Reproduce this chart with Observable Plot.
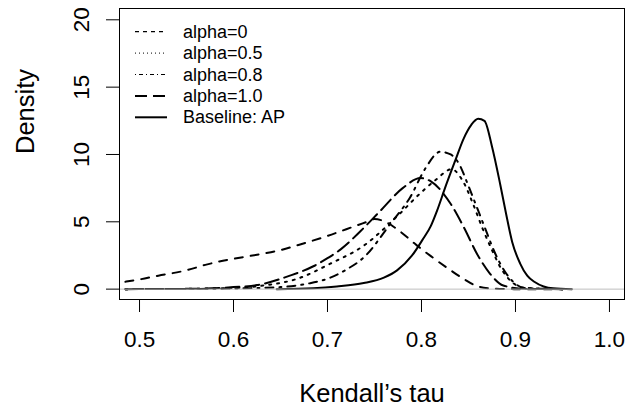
<!DOCTYPE html>
<html><head><meta charset="utf-8">
<script src="https://cdn.jsdelivr.net/npm/d3@7"></script>
<script src="https://cdn.jsdelivr.net/npm/@observablehq/plot@0.6"></script>
<style>
body{margin:0;background:#fff;}
#wrap{position:relative;width:632px;height:405px;font-family:"Liberation Sans",Arial,Helvetica,sans-serif;}
#legend{position:absolute;left:0;top:0;pointer-events:none;}
</style></head><body><div id="wrap"></div>
<script>
// Series names
const seriesNames = ["alpha=0", "alpha=0.5", "alpha=0.8", "alpha=1.0", "Baseline: AP"];

// alpha=0
const tauA0  = [0.485,0.5,0.52,0.55,0.57,0.585,0.6,0.63,0.65,0.67,0.7,0.72,0.74,0.75,0.76,0.775,0.795,0.81,0.83,0.845,0.86,0.875,0.9,0.95];
const densA0 = [0.55,0.72,1.0,1.4,1.8,2.05,2.25,2.62,2.9,3.3,3.95,4.45,4.95,5.2,5.05,4.4,3.25,2.45,1.45,0.75,0.2,0.05,0.0,0.0];

// alpha=0.5
const tauA05  = [0.485,0.55,0.6,0.632,0.668,0.703,0.739,0.774,0.8,0.815,0.832,0.845,0.855,0.865,0.875,0.885,0.895,0.91,0.95];
const densA05 = [0.0,0.02,0.08,0.27,0.77,1.89,3.25,5.4,7.2,8.1,8.9,7.9,6.3,4.5,2.9,1.5,0.6,0.1,0.0];

// alpha=0.8
const tauA08  = [0.485,0.55,0.6,0.65,0.68,0.703,0.72,0.739,0.767,0.788,0.804,0.82,0.831,0.84,0.849,0.856,0.863,0.870,0.877,0.888,0.898,0.91,0.95];
const densA08 = [0.0,0.01,0.05,0.15,0.42,0.85,1.45,2.38,4.86,6.83,8.95,10.2,10.0,9.3,7.83,6.6,5.35,4.1,2.87,1.39,0.52,0.08,0.0];

// alpha=1.0
const tauA10  = [0.485,0.55,0.6,0.625,0.66,0.685,0.7,0.714,0.735,0.756,0.78,0.799,0.81,0.831,0.845,0.859,0.873,0.887,0.91,0.95];
const densA10 = [0.0,0.02,0.15,0.3,1.0,1.7,2.3,2.95,4.3,5.8,7.5,8.25,8.0,6.34,4.6,2.63,1.14,0.27,0.02,0.0];

// Baseline: AP
const tauAP  = [0.646,0.685,0.71,0.7386,0.76,0.774,0.79,0.8007,0.81,0.8167,0.825,0.836,0.845,0.853,0.8603,0.867,0.875,0.884,0.89,0.8965,0.905,0.9125,0.92,0.93,0.94,0.96];
const densAP = [0.0,0.07,0.2,0.45,0.85,1.39,2.5,3.62,4.7,5.85,7.5,9.56,11.2,12.2,12.65,12.5,10.6,7.7,5.6,3.5,1.9,1.0,0.55,0.2,0.06,0.0];

// Axis ticks
const xTicks = [0.5, 0.6, 0.7, 0.8, 0.9, 1.0];
const yTicks = [0, 5, 10, 15, 20];

const seriesX = [tauA0, tauA05, tauA08, tauA10, tauAP];
const seriesY = [densA0, densA05, densA08, densA10, densAP];

const rows = [];
seriesNames.forEach((s, i) => seriesX[i].forEach((t, j) => rows.push({s, tau: t, dens: seriesY[i][j]})));

const curveDash = {"alpha=0": "8,8", "alpha=0.5": "2,6", "alpha=0.8": "2,6,8,6", "alpha=1.0": "14,6", "Baseline: AP": null};
const legendDash = {"alpha=0": ["4,4", 1.3], "alpha=0.5": ["1,3", 1], "alpha=0.8": ["1,3,4,3", 1], "alpha=1.0": ["12,6", 2], "Baseline: AP": [null, 2]};

const font = '"Liberation Sans", Arial, Helvetica, sans-serif';

const plot = Plot.plot({
  width: 632, height: 405,
  marginLeft: 119, marginRight: 8, marginTop: 8, marginBottom: 106,
  style: {fontFamily: font, background: "white", color: "black"},
  x: {domain: [0.4787, 1.016]},
  y: {domain: [-0.77, 20.84]},
  marks: [
    ...seriesNames.map(name => Plot.line(rows.filter(d => d.s === name), {
      x: "tau", y: "dens", stroke: "black", strokeWidth: 2,
      strokeDasharray: curveDash[name], curve: "monotone-x"
    })),
    Plot.ruleY([0], {stroke: "#bebebe", strokeWidth: 1}),
    Plot.frame({stroke: "black", strokeWidth: 1}),
    Plot.axisX(xTicks, {tickSize: 13, tickPadding: 19, fontSize: 22.5, tickFormat: d => d.toFixed(1), label: null}),
    Plot.axisY(yTicks, {tickSize: 13, tickRotate: -90, tickPadding: 17.5, fontSize: 22.5, label: null}),
    Plot.text(["Kendall’s tau"], {frameAnchor: "bottom", dy: 102, lineAnchor: "bottom", fontSize: 25.5}),
    Plot.text(["Density"], {frameAnchor: "left", dx: -86, rotate: -90, lineAnchor: "bottom", fontSize: 25.5})
  ]
});

const wrap = document.getElementById("wrap");
wrap.appendChild(plot);

// Legend overlay
const ns = "http://www.w3.org/2000/svg";
const leg = document.createElementNS(ns, "svg");
leg.setAttribute("id", "legend");
leg.setAttribute("width", 632);
leg.setAttribute("height", 405);
seriesNames.forEach((name, i) => {
  const y = 31.7 + i * 21.4;
  const ln = document.createElementNS(ns, "line");
  ln.setAttribute("x1", 135); ln.setAttribute("x2", 167);
  ln.setAttribute("y1", y); ln.setAttribute("y2", y);
  ln.setAttribute("stroke", "black");
  ln.setAttribute("stroke-width", legendDash[name][1]);
  if (legendDash[name][0]) ln.setAttribute("stroke-dasharray", legendDash[name][0]);
  leg.appendChild(ln);
  const tx = document.createElementNS(ns, "text");
  tx.setAttribute("x", 183); tx.setAttribute("y", y);
  tx.setAttribute("dominant-baseline", "central");
  tx.setAttribute("font-size", 18);
  tx.setAttribute("font-family", font);
  tx.textContent = name;
  leg.appendChild(tx);
});
wrap.appendChild(leg);
</script></body></html>
